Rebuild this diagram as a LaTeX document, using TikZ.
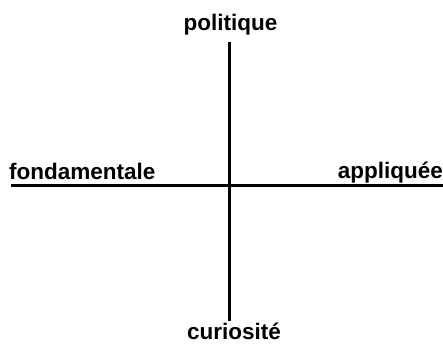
\documentclass[tikz,border=0pt]{standalone}
\usepackage{fontspec}
\setmainfont{Liberation Sans}
\begin{document}
\begin{tikzpicture}[x=1pt,y=-1pt,
  lbl/.style={inner sep=0pt,font=\fontsize{22.5}{26}\selectfont\bfseries},
  axis/.style={line width=3pt,black}]
\useasboundingbox (0,0) rectangle (443,343);
\coordinate (top) at (229,42);
\coordinate (bot) at (229,321);
\coordinate (lft) at (11,185);
\coordinate (rgt) at (443,185);
\draw[axis] (top) -- (bot);
\draw[axis] (lft) -- (rgt);
\node[lbl,anchor=base] (pol) at (230.5,30) {politique};
\node[lbl,anchor=base west] (fon) at (9,179) {fondamentale};
\node[lbl,anchor=base east] (app) at (443,178) {appliquée};
\node[lbl,anchor=base] (cur) at (234,339) {curiosité};
\end{tikzpicture}
\end{document}
